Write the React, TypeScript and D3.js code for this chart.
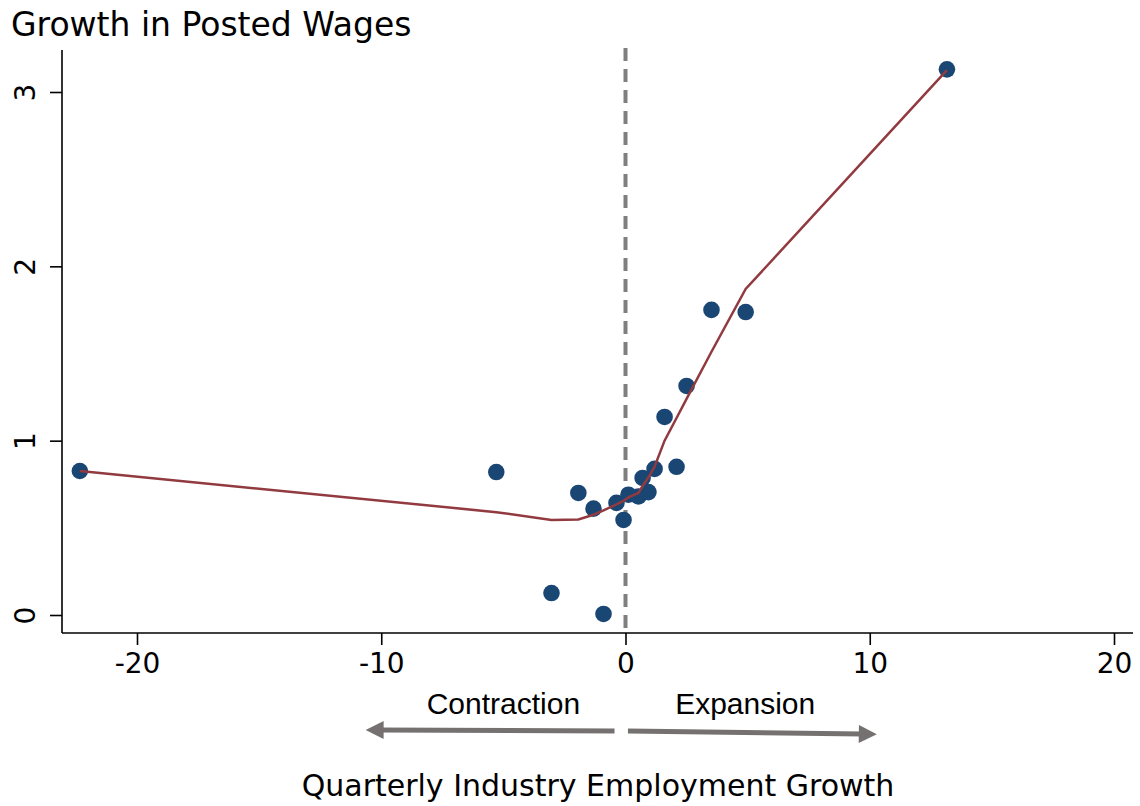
import React, { useEffect, useRef } from 'react'
import * as d3 from 'd3'

// industry-level points: employment growth (x) vs posted wage growth (y)
const empGrowth = [-22.34, -5.29, -3.03, -1.93, -1.31, -0.9, -0.37, -0.08, 0.12, 0.53, 0.7, 0.94, 1.19, 2.09, 1.6, 2.5, 3.52, 4.92, 13.16]
const wageGrowth = [0.826, 0.82, 0.126, 0.7, 0.61, 0.006, 0.643, 0.545, 0.69, 0.68, 0.786, 0.705, 0.838, 0.85, 1.136, 1.314, 1.75, 1.738, 3.13]

// smoothed fit, evaluated at sorted x values
const fitX = [-22.34, -5.29, -3.03, -1.93, -1.31, -0.9, -0.37, -0.08, 0.12, 0.53, 0.7, 0.94, 1.19, 1.6, 2.09, 2.5, 3.52, 4.92, 13.16]
const fitY = [0.826, 0.59, 0.545, 0.548, 0.575, 0.6, 0.635, 0.655, 0.675, 0.7, 0.74, 0.79, 0.85, 1.0, 1.13, 1.24, 1.51, 1.87, 3.125]

const xTicks = [-20, -10, 0, 10, 20]
const yTicks = [0, 1, 2, 3]

const W = 1140
const H = 806
const plotLeft = 62
const plotRight = 1133
const plotTop = 50
const plotBottom = 633

export default function App() {
  const xAxisRef = useRef<SVGGElement | null>(null)
  const yAxisRef = useRef<SVGGElement | null>(null)

  const x = d3.scaleLinear().domain([-20, 20]).range([137, 1114])
  const y = d3.scaleLinear().domain([0, 3]).range([615, 92])

  useEffect(() => {
    document.body.style.margin = '0'
    if (xAxisRef.current) {
      const g = d3.select(xAxisRef.current)
      g.selectAll('*').remove()
      g.call(d3.axisBottom(x).tickValues(xTicks).tickSize(12).tickSizeOuter(0).tickFormat(d3.format('d')))
      g.select('.domain').attr('d', `M${plotLeft},0H${plotRight}`).attr('stroke', '#000').attr('stroke-width', 1.6)
      g.selectAll('.tick line').attr('stroke', '#000').attr('stroke-width', 1.6)
      g.selectAll('.tick text')
        .attr('y', 40)
        .attr('dy', 0)
        .attr('fill', '#000')
        .style('font-family', 'DejaVu Sans')
        .style('font-size', '28px')
        .text((d: any) => (d < 0 ? '-' + Math.abs(d) : String(d)))
    }
    if (yAxisRef.current) {
      const g = d3.select(yAxisRef.current)
      g.selectAll('*').remove()
      g.call(d3.axisLeft(y).tickValues(yTicks).tickSize(12).tickSizeOuter(0).tickFormat(d3.format('d')))
      g.select('.domain').attr('d', `M0,${plotTop}V${plotBottom}`).attr('stroke', '#000').attr('stroke-width', 1.6)
      g.selectAll('.tick line').attr('stroke', '#000').attr('stroke-width', 1.6)
      g.selectAll('.tick text')
        .attr('x', 0)
        .attr('dy', 0)
        .attr('transform', 'translate(-27,0) rotate(-90)')
        .attr('text-anchor', 'middle')
        .attr('fill', '#000')
        .style('font-family', 'DejaVu Sans')
        .style('font-size', '28px')
    }
  }, [])

  const fitLine = d3
    .line<number>()
    .x((_, i) => x(fitX[i]))
    .y((d) => y(d))(fitY)

  const arrowY = 731

  return (
    <svg width={W} height={H} style={{ display: 'block', background: '#fff' }}>
      <defs>
        <marker id="ah" viewBox="0 0 10 10" refX="2" refY="5" markerWidth="4" markerHeight="3.6" orient="auto">
          <path d="M0,0L10,5L0,10z" fill="#757171" />
        </marker>
      </defs>
      <text x={11} y={36} fontFamily="DejaVu Sans" fontSize={33} fill="#000">
        Growth in Posted Wages
      </text>

      <line
        x1={x(0)}
        x2={x(0)}
        y1={plotTop - 2}
        y2={plotBottom - 2}
        stroke="#7f7f7f"
        strokeWidth={4}
        strokeDasharray="13 8"
      />

      {empGrowth.map((d, i) => (
        <circle key={i} cx={x(d)} cy={y(wageGrowth[i])} r={8.3} fill="#1a4674" />
      ))}

      <path d={fitLine ?? ''} fill="none" stroke="#913a3f" strokeWidth={2.5} />

      <g ref={xAxisRef} transform={`translate(0,${plotBottom})`} />
      <g ref={yAxisRef} transform={`translate(${plotLeft},0)`} />

      <text x={x(-5)} y={714} textAnchor="middle" fontFamily="Liberation Sans" fontSize={30} fill="#000">
        Contraction
      </text>
      <text x={x(4.9)} y={714} textAnchor="middle" fontFamily="Liberation Sans" fontSize={30} fill="#000">
        Expansion
      </text>
      <line x1={x(-0.45)} y1={arrowY} x2={x(-10.05)} y2={arrowY - 1} stroke="#757171" strokeWidth={5} markerEnd="url(#ah)" />
      <line x1={x(0.1)} y1={arrowY} x2={x(9.7)} y2={arrowY + 3} stroke="#757171" strokeWidth={5} markerEnd="url(#ah)" />

      <text x={598} y={796} textAnchor="middle" fontFamily="DejaVu Sans" fontSize={30} fill="#000">
        Quarterly Industry Employment Growth
      </text>
    </svg>
  )
}
